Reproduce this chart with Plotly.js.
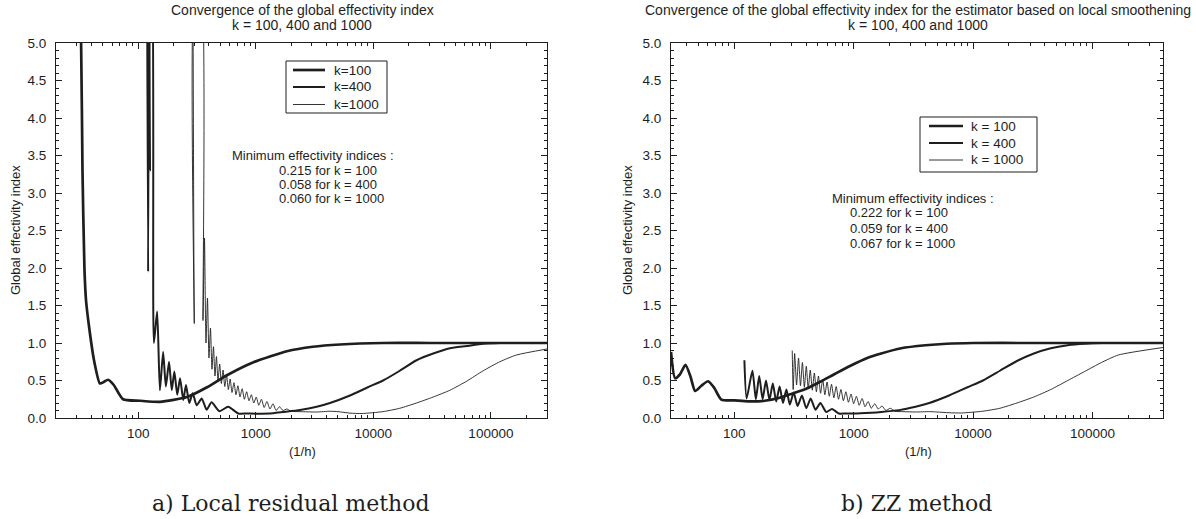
<!DOCTYPE html>
<html>
<head>
<meta charset="utf-8">
<script src="https://cdn.plot.ly/plotly-3.0.1.min.js"></script>
<style>html,body{margin:0;padding:0;background:#fff;}#chart{width:1196px;height:519px;}</style>
</head>
<body>
<div id="chart"></div>
<script>
// ---------- data ----------
const majorTickVals = [100, 1000, 10000, 100000];
const majorTickText = ['100', '1000', '10000', '100000'];
const legendNamesA = ['k=100', 'k=400', 'k=1000'];
const legendNamesB = ['k = 100', 'k = 400', 'k = 1000'];

// a) Local residual method
const a_k100_x = [31, 32.7, 33.6, 34.9, 36.0, 38.2, 42.1, 47.3, 51, 55.4, 62, 74.3, 104, 153, 260, 385, 569, 946, 1840, 3060, 5200, 12100, 30000, 300000];
const a_k100_y = [6, 5.0, 3.3, 2.0, 1.57, 1.22, 0.77, 0.46, 0.48, 0.51, 0.44, 0.25, 0.23, 0.215, 0.28, 0.41, 0.57, 0.74, 0.89, 0.95, 0.98, 1.0, 1.0, 1.0];

const a_k400_x = [119, 121.5, 123.5, 126, 128, 130, 136, 145, 153, 163, 172, 183, 193, 203, 215, 227, 242, 255, 272, 291, 314, 347, 382, 421, 490, 584, 710, 850, 1000, 1410, 1710, 2380, 3300, 4280, 6330, 9000, 12100, 16800, 23300, 32300, 44800, 62100, 86000, 119000, 300000];
const a_k400_y = [6, 1.95, 6, 3.3, 6, 6, 1.0, 1.42, 0.37, 0.88, 0.42, 0.75, 0.37, 0.62, 0.31, 0.53, 0.24, 0.44, 0.2, 0.33, 0.17, 0.26, 0.11, 0.21, 0.09, 0.15, 0.06, 0.06, 0.058, 0.065, 0.08, 0.107, 0.15, 0.2, 0.3, 0.41, 0.5, 0.63, 0.77, 0.86, 0.93, 0.96, 0.99, 1.0, 1.0];

const a_k1000_x = [292, 300, 308, 336, 355.7, 366.3, 377.2, 388.5, 400, 412, 424.2, 436.9, 449.9, 463.3, 477.1, 493.3, 509.9, 527.2, 545.1, 564.7, 584.9, 605.9, 627.6, 652.7, 678.8, 705.9, 734.1, 766.4, 800.1, 836.9, 875.5, 917.6, 961.7, 1010, 1061, 1118, 1179, 1245, 1321, 1401, 1491, 1591, 1704, 1842, 1992, 2380, 3300, 4280, 5000, 6330, 8000, 12100, 16800, 23300, 32300, 44800, 62100, 86000, 119000, 165000, 300000];
const a_k1000_y = [6, 1.26, 6, 6, 1.3, 2.4, 1.0, 1.6, 0.8, 1.2, 0.65, 0.95, 0.56, 0.82, 0.5, 0.72, 0.46, 0.64, 0.42, 0.57, 0.38, 0.52, 0.34, 0.47, 0.31, 0.43, 0.28, 0.39, 0.25, 0.35, 0.23, 0.31, 0.2, 0.28, 0.17, 0.25, 0.14, 0.22, 0.12, 0.19, 0.1, 0.15, 0.1, 0.12, 0.09, 0.085, 0.08, 0.09, 0.085, 0.065, 0.06, 0.085, 0.13, 0.2, 0.28, 0.37, 0.49, 0.63, 0.75, 0.84, 0.92];

// b) ZZ method
const b_k100_x = [29.5, 31.9, 35, 39, 43, 47, 53, 60.3, 68, 78, 100, 130, 180, 240, 300, 400, 520, 700, 950, 1300, 1700, 2500, 4000, 6000, 10000, 30000, 390000];
const b_k100_y = [0.88, 0.53, 0.58, 0.71, 0.55, 0.36, 0.43, 0.49, 0.40, 0.245, 0.235, 0.222, 0.23, 0.27, 0.32, 0.39, 0.48, 0.59, 0.70, 0.80, 0.86, 0.93, 0.97, 0.99, 1.0, 1.0, 1.0];

const b_k400_x = [121.5, 126.8, 141.9, 151.5, 161.7, 172.7, 184.4, 196.9, 210.2, 224.4, 239.6, 255.8, 273.2, 291.7, 314.4, 338.8, 368.6, 401, 436.3, 479, 526.1, 588.6, 658.6, 750.7, 850, 1000, 1400, 1700, 2400, 3300, 4300, 6300, 9000, 12100, 16800, 23300, 32300, 44800, 62100, 86000, 120000, 390000];
const b_k400_y = [0.77, 0.26, 0.63, 0.25, 0.56, 0.25, 0.5, 0.24, 0.46, 0.22, 0.42, 0.2, 0.38, 0.18, 0.34, 0.16, 0.3, 0.13, 0.26, 0.11, 0.2, 0.08, 0.12, 0.06, 0.06, 0.059, 0.07, 0.08, 0.105, 0.15, 0.2, 0.3, 0.41, 0.5, 0.63, 0.76, 0.86, 0.93, 0.97, 0.99, 1.0, 1.0];

const b_k1000_x = [305.7, 311.4, 320.3, 332.5, 345.2, 358.4, 372.1, 386.3, 401, 416.3, 433, 450.4, 468.4, 487.2, 506.7, 528, 550.2, 573.4, 598.6, 624.9, 652.4, 682.4, 713.8, 746.6, 782.3, 819.8, 860.7, 903.7, 950.5, 999.8, 1054, 1112, 1177, 1245, 1321, 1406, 1501, 1608, 1727, 1861, 2025, 2223, 2600, 3300, 4300, 5000, 6300, 8000, 12000, 16800, 23300, 32300, 44800, 62100, 86000, 119000, 165000, 390000];
const b_k1000_y = [0.9, 0.38, 0.86, 0.44, 0.8, 0.43, 0.74, 0.41, 0.69, 0.39, 0.64, 0.37, 0.6, 0.35, 0.56, 0.33, 0.52, 0.31, 0.48, 0.29, 0.45, 0.27, 0.42, 0.25, 0.38, 0.23, 0.35, 0.21, 0.32, 0.19, 0.29, 0.17, 0.26, 0.15, 0.22, 0.13, 0.19, 0.12, 0.16, 0.1, 0.13, 0.09, 0.085, 0.08, 0.085, 0.08, 0.07, 0.067, 0.09, 0.13, 0.2, 0.28, 0.38, 0.5, 0.62, 0.74, 0.84, 0.94];

const titleA = ['Convergence of the global effectivity index', 'k = 100, 400 and 1000'];
const titleB = ['Convergence of the global effectivity index for the estimator based on local smoothening', 'k = 100, 400 and 1000'];
const minTextA = ['Minimum effectivity indices :', '0.215 for k = 100', '0.058 for k = 400', '0.060 for k = 1000'];
const minTextB = ['Minimum effectivity indices :', '0.222 for k = 100', '0.059 for k = 400', '0.067 for k = 1000'];
const captionA = 'a) Local residual method';
const captionB = 'b) ZZ method';
const yTitle = 'Global effectivity index';
const xTitle = '(1/h)';

// ---------- drawing ----------
const W = 1196, H = 519;
const INK = '#1e1e1e';
const FONT = 'Liberation Sans, Arial, sans-serif';
const SERIF = 'DejaVu Serif, serif';
const widths = [2.7, 2.0, 0.9];

function px(x) { return x / W; }
function py(y) { return 1 - y / H; }

function minorLogTicks(lo, hi) {
  const v = [];
  for (let d = 10; d <= hi; d *= 10) {
    for (let m = 2; m <= 9; m++) { const t = d * m; if (t >= lo && t <= hi) v.push(t); }
  }
  return v;
}

function lineTrace(x, y, name, w, xa, ya) {
  return { x: x, y: y, name: name, type: 'scatter', mode: 'lines',
    line: { color: INK, width: w, shape: 'spline', smoothing: 0.6 },
    xaxis: xa, yaxis: ya, showlegend: false, hoverinfo: 'skip' };
}

const traces = [
  lineTrace(a_k100_x, a_k100_y, legendNamesA[0], widths[0], 'x', 'y'),
  lineTrace(a_k400_x, a_k400_y, legendNamesA[1], widths[1], 'x', 'y'),
  lineTrace(a_k1000_x, a_k1000_y, legendNamesA[2], widths[2], 'x', 'y'),
  lineTrace(b_k100_x, b_k100_y, legendNamesB[0], widths[0], 'x2', 'y2'),
  lineTrace(b_k400_x, b_k400_y, legendNamesB[1], widths[1], 'x2', 'y2'),
  lineTrace(b_k1000_x, b_k1000_y, legendNamesB[2], widths[2], 'x2', 'y2')
];

function xAxis(domain, lo, hi, anchor) {
  return { domain: domain, anchor: anchor, type: 'log',
    range: [Math.log10(lo), Math.log10(hi)],
    tickmode: 'array', tickvals: majorTickVals, ticktext: majorTickText,
    ticks: 'inside', ticklen: 6, tickwidth: 1, tickcolor: INK,
    showline: true, linecolor: INK, linewidth: 1, mirror: 'ticks',
    showgrid: false, zeroline: false,
    tickfont: { family: FONT, size: 13.5, color: INK },
    ticklabelstandoff: 3,
    minor: { tickmode: 'array', tickvals: minorLogTicks(lo, hi), ticks: 'inside', ticklen: 3, tickcolor: INK, showgrid: false } };
}
function yAxis(domain, anchor) {
  return { domain: domain, anchor: anchor, range: [0, 5], tick0: 0, dtick: 0.5, tickformat: '.1f',
    ticks: 'inside', ticklen: 6, tickwidth: 1, tickcolor: INK,
    showline: true, linecolor: INK, linewidth: 1, mirror: 'ticks',
    showgrid: false, zeroline: false,
    tickfont: { family: FONT, size: 13.5, color: INK },
    ticklabelstandoff: 6,
    minor: { dtick: 0.1, ticks: 'inside', ticklen: 3, tickcolor: INK, showgrid: false } };
}

const yDom = [py(418), py(43)];
const annotations = [];
const shapes = [];
function ann(text, x, y, opts) {
  annotations.push(Object.assign({ text: text, x: px(x), y: py(y), xref: 'paper', yref: 'paper',
    showarrow: false, font: { family: FONT, size: 13, color: INK }, xanchor: 'center', yanchor: 'middle' }, opts || {}));
}
// titles
ann(titleA[0], 302, 10, { font: { family: FONT, size: 14, color: INK } });
ann(titleA[1], 302, 25, { font: { family: FONT, size: 14, color: INK } });
ann(titleB[0], 918, 10, { font: { family: FONT, size: 14, color: INK } });
ann(titleB[1], 918, 25, { font: { family: FONT, size: 14, color: INK } });
// axis titles
ann(yTitle, 15, 230, { textangle: -90 });
ann(yTitle, 627, 230, { textangle: -90 });
ann(xTitle, 302, 451);
ann(xTitle, 918, 451);
// minimum effectivity texts
ann(minTextA[0], 230, 155, { xanchor: 'left' });
ann(minTextA[1], 277, 170, { xanchor: 'left' });
ann(minTextA[2], 277, 184, { xanchor: 'left' });
ann(minTextA[3], 277, 199, { xanchor: 'left' });
ann(minTextB[0], 830, 199, { xanchor: 'left' });
ann(minTextB[1], 848, 213, { xanchor: 'left' });
ann(minTextB[2], 848, 228, { xanchor: 'left' });
ann(minTextB[3], 848, 243, { xanchor: 'left' });
// captions
ann(captionA, 291, 503, { font: { family: SERIF, size: 22, color: INK } });
ann(captionB, 916, 503, { font: { family: SERIF, size: 22, color: INK } });

// legends (box, line samples of the trace widths, names)
function legend(names, x0, x1, y0, y1, lx0, lx1, tx, rows) {
  shapes.push({ type: 'rect', xref: 'paper', yref: 'paper', x0: px(x0), x1: px(x1), y0: py(y1), y1: py(y0),
    line: { color: INK, width: 1 }, fillcolor: '#fff', layer: 'above' });
  names.forEach(function (n, i) {
    shapes.push({ type: 'line', xref: 'paper', yref: 'paper', x0: px(lx0), x1: px(lx1), y0: py(rows[i]), y1: py(rows[i]),
      line: { color: INK, width: widths[i] }, layer: 'above' });
    ann(n, tx, rows[i], { xanchor: 'left', font: { family: FONT, size: 13.5, color: INK } });
  });
}
legend(legendNamesA, 286, 387, 61, 113, 293, 325, 332, [70, 87, 104.5]);
legend(legendNamesB, 920, 1037, 117, 172, 929, 963, 969, [126, 143, 160]);

const layout = {
  width: W, height: H, margin: { l: 0, r: 0, t: 0, b: 0 },
  paper_bgcolor: '#fff', plot_bgcolor: '#fff', showlegend: false,
  xaxis: xAxis([px(56), px(547)], 20, 300000, 'y'),
  yaxis: yAxis(yDom, 'x'),
  xaxis2: xAxis([px(671), px(1163)], 29.5, 390000, 'y2'),
  yaxis2: yAxis(yDom, 'x2'),
  annotations: annotations,
  shapes: shapes
};

Plotly.newPlot('chart', traces, layout, { staticPlot: true, displayModeBar: false });
</script>
</body>
</html>
